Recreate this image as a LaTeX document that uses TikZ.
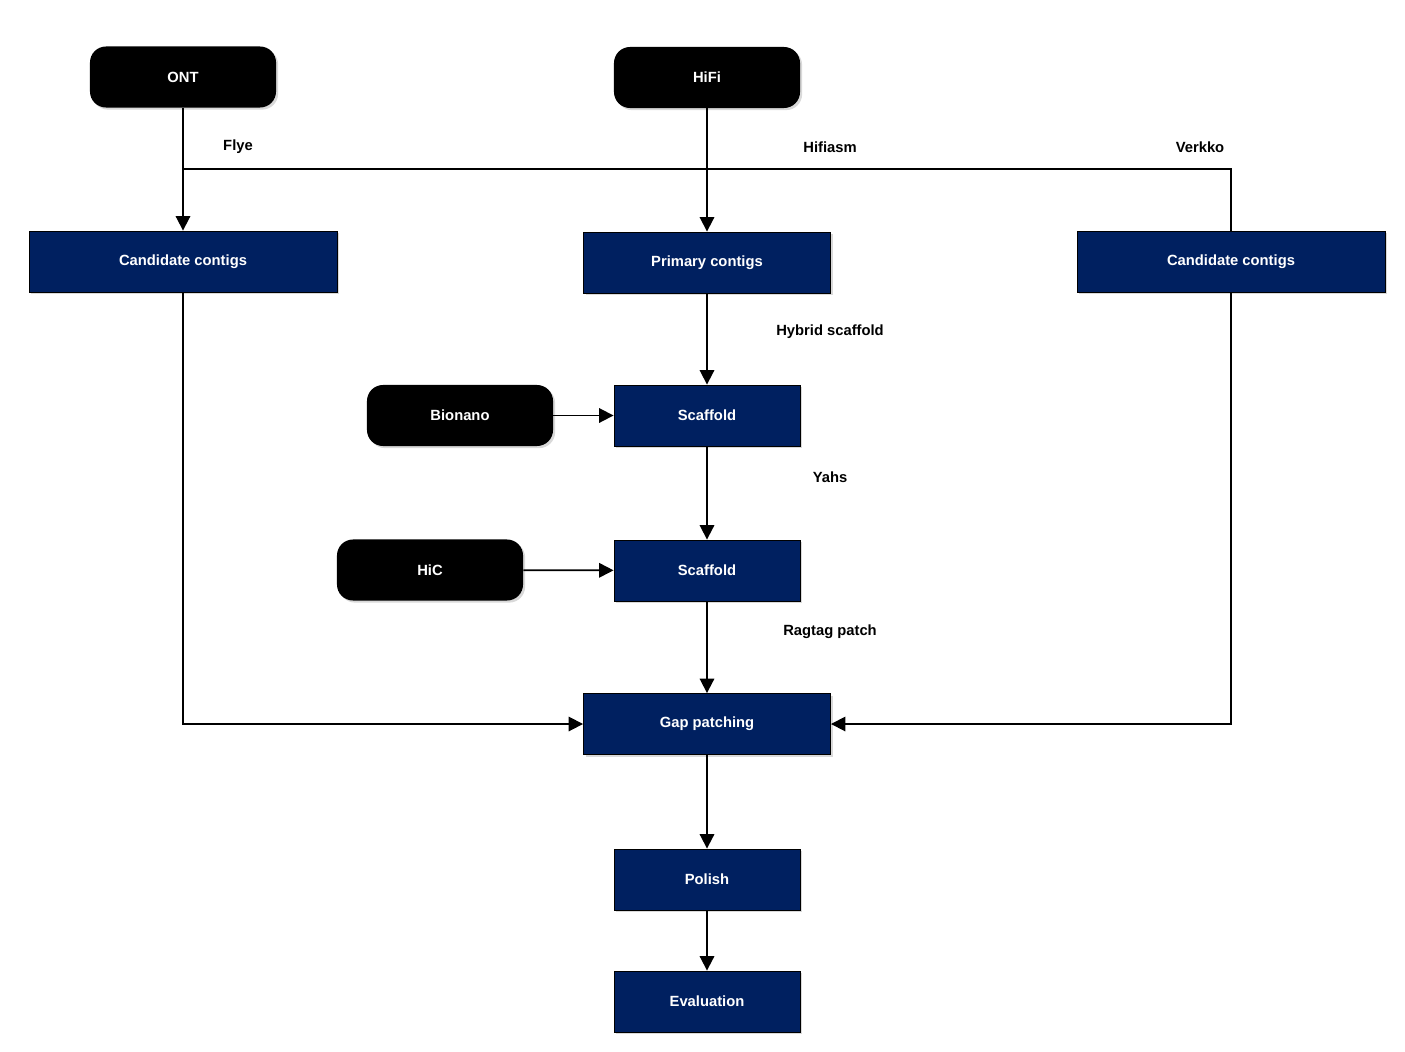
\documentclass[tikz,border=0pt]{standalone}
\usepackage{fontspec}
\setmainfont{Liberation Sans}
\usepackage{xcolor}
\usetikzlibrary{arrows.meta,positioning,shadows}

\definecolor{navy}{HTML}{002060}

\begin{document}
\begin{tikzpicture}[
    x=0.025cm, y=-0.025cm,
    etapa/.style={draw=black, line width=0.6pt, fill=navy, text=white,
        minimum height=1.525cm, minimum width=4.65cm,
        font=\fontsize{10.5}{12}\selectfont\bfseries,
        drop shadow={opacity=0.3, shadow xshift=1.5pt, shadow yshift=-1.5pt}},
    largo/.style={etapa, minimum width=6.175cm},
    xlargo/.style={etapa, minimum width=7.7cm},
    entrada/.style={fill=black, text=white, rounded corners=0.4cm,
        minimum height=1.525cm, minimum width=4.65cm,
        font=\fontsize{10.5}{12}\selectfont\bfseries,
        drop shadow={opacity=0.3, shadow xshift=1.5pt, shadow yshift=-1.5pt}},
    rotulo/.style={font=\fontsize{10.5}{12}\selectfont\bfseries},
    linha/.style={line width=1.3pt},
    fluxo/.style={linha, -{Triangle[length=0.36cm, width=0.36cm]}}
]
    \useasboundingbox (0,0) rectangle (1405,1051);

    % entradas
    \node[entrada] (ont) at (183,77) {ONT};
    \node[entrada] (hifi) at (707,77.5) {HiFi};
    \node[entrada] (bionano) at (460,415.5) {Bionano};
    \node[entrada] (hic) at (430,570) {HiC};

    % etapas
    \node[xlargo] (candL) at (183,261.5) {Candidate contigs};
    \node[largo] (primary) at (707,262.5) {Primary contigs};
    \node[xlargo] (candR) at (1231,261.5) {Candidate contigs};
    \node[etapa] (scaf1) at (707,415.5) {Scaffold};
    \node[etapa] (scaf2) at (707,570.5) {Scaffold};
    \node[largo] (gap) at (707,724) {Gap patching};
    \node[etapa] (polish) at (707,879.5) {Polish};
    \node[etapa] (eval) at (707,1001.5) {Evaluation};

    % rotulos
    \node[rotulo] (flye) at (238,147) {Flye};
    \node[rotulo] (hifiasm) at (830,147) {Hifiasm};
    \node[rotulo] (verkko) at (1200,147) {Verkko};
    \node[rotulo] (hybrid) at (830,332) {Hybrid scaffold};
    \node[rotulo] (yahs) at (830,477) {Yahs};
    \node[rotulo] (ragtag) at (830,632) {Ragtag patch};

    \coordinate (fork) at (183,169);

    \draw[fluxo] (ont) -- (candL);
    \draw[linha] (fork) -| (candR.north);
    \draw[fluxo] (hifi) -- (primary);
    \draw[fluxo] (primary) -- (scaf1);
    \draw[fluxo] (bionano) -- (scaf1);
    \draw[fluxo] (scaf1) -- (scaf2);
    \draw[fluxo] (hic) -- (scaf2);
    \draw[fluxo] (scaf2) -- (gap);
    \draw[fluxo] (candL.south) |- (gap.west);
    \draw[fluxo] (candR.south) |- (gap.east);
    \draw[fluxo] (gap) -- (polish);
    \draw[fluxo] (polish) -- (eval);
\end{tikzpicture}
\end{document}
